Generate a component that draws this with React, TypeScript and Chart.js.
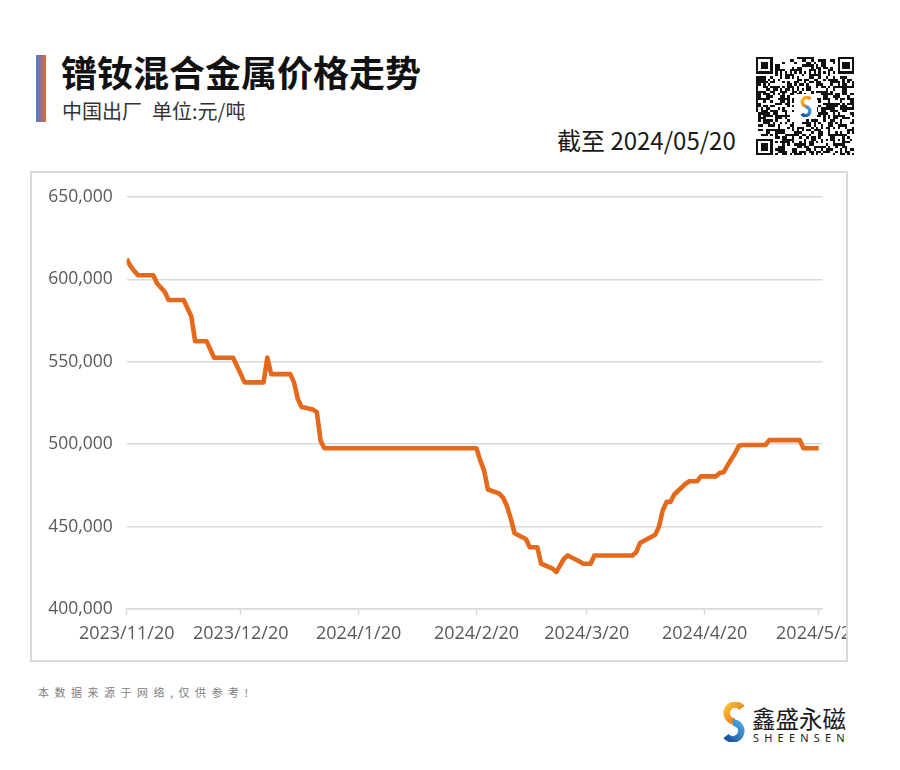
import React, { useEffect, useRef } from "react";
import { Chart, registerables } from "chart.js";

Chart.register(...registerables);

// ---- data ----
const priceDates: string[] = [
  "2023-11-20", "2023-11-21", "2023-11-22", "2023-11-23", "2023-11-24", "2023-11-27",
  "2023-11-28", "2023-11-29", "2023-11-30", "2023-12-01", "2023-12-04", "2023-12-05",
  "2023-12-06", "2023-12-07", "2023-12-08", "2023-12-11", "2023-12-12", "2023-12-13",
  "2023-12-14", "2023-12-15", "2023-12-18", "2023-12-19", "2023-12-20", "2023-12-21",
  "2023-12-22", "2023-12-25", "2023-12-26", "2023-12-27", "2023-12-28", "2023-12-29",
  "2024-01-02", "2024-01-03", "2024-01-04", "2024-01-05", "2024-01-08", "2024-01-09",
  "2024-01-10", "2024-01-11", "2024-01-12", "2024-01-19", "2024-01-26", "2024-02-02",
  "2024-02-08", "2024-02-19", "2024-02-20", "2024-02-21", "2024-02-22", "2024-02-23",
  "2024-02-26", "2024-02-27", "2024-02-28", "2024-02-29", "2024-03-01", "2024-03-04",
  "2024-03-05", "2024-03-06", "2024-03-07", "2024-03-08", "2024-03-11", "2024-03-12",
  "2024-03-13", "2024-03-14", "2024-03-15", "2024-03-18", "2024-03-19", "2024-03-20",
  "2024-03-21", "2024-03-22", "2024-03-25", "2024-03-29", "2024-04-01", "2024-04-02",
  "2024-04-03", "2024-04-07", "2024-04-08", "2024-04-09", "2024-04-10", "2024-04-11",
  "2024-04-12", "2024-04-15", "2024-04-16", "2024-04-17", "2024-04-18", "2024-04-19",
  "2024-04-22", "2024-04-23", "2024-04-24", "2024-04-25", "2024-04-26", "2024-04-28",
  "2024-04-29", "2024-04-30", "2024-05-06", "2024-05-07", "2024-05-10", "2024-05-15",
  "2024-05-16", "2024-05-17", "2024-05-20",
];

const priceValues: number[] = [
  612500, 608000, 605000, 602500, 602500, 602500,
  597500, 595000, 592500, 587500, 587500, 587500,
  582500, 577500, 562500, 562500, 557500, 552500,
  552500, 552500, 552500, 547500, 542500, 537500,
  537500, 537500, 537500, 552500, 542500, 542500,
  542500, 537500, 527500, 522500, 521000, 519500,
  502000, 497500, 497500, 497500, 497500, 497500,
  497500, 497500, 497500, 490000, 484000, 472500,
  470000, 467500, 462500, 455000, 446000, 442500,
  437500, 437500, 437500, 427500, 424500, 422500,
  426500, 430500, 432500, 429000, 427500, 427500,
  427500, 432500, 432500, 432500, 432500, 434500,
  440000, 445000, 450000, 460000, 465000, 465000,
  469500, 476000, 477500, 477500, 477500, 480500,
  480500, 480500, 482500, 483000, 487000, 494500,
  499000, 499500, 499500, 502500, 502500, 502500,
  497500, 497500, 497500,
];

const tickDates: string[] = [
  "2023/11/20", "2023/12/20", "2024/1/20", "2024/2/20", "2024/3/20", "2024/4/20", "2024/5/20",
];
const axisStartDate = "2023/11/20";
const axisEndDate = "2024/5/21";
const yMin = 400000;
const yMax = 650000;
const yStep = 50000;

const titleText = "镨钕混合金属价格走势";
const subtitleA = "中国出厂";
const subtitleB = "单位:元/吨";
const asOfText = "截至 2024/05/20";
const footerText = "本数据来源于网络,仅供参考!";
const brandCn = "鑫盛永磁";
const brandEn = "SHEENSEN";

// ---- helpers ----
function dayIndex(s: string): number {
  const [y, m, d] = s.split(/[-/]/).map(Number);
  const [y0, m0, d0] = axisStartDate.split("/").map(Number);
  return Math.round((Date.UTC(y, m - 1, d) - Date.UTC(y0, m0 - 1, d0)) / 86400000);
}

const CJK = '"Noto Sans CJK SC", "Noto Sans", sans-serif';

function SIcon({ w, h }: { w: number; h: number }) {
  return (
    <svg width={w} height={h} viewBox="0 0 26 40" style={{ display: "block" }}>
      <defs>
        <linearGradient id={`go${w}`} x1="0" y1="0" x2="1" y2="1">
          <stop offset="0" stopColor="#f9c232" />
          <stop offset="1" stopColor="#e8621c" />
        </linearGradient>
        <linearGradient id={`gb${w}`} x1="1" y1="0" x2="0" y2="1">
          <stop offset="0" stopColor="#4aa7e0" />
          <stop offset="1" stopColor="#1a4f9c" />
        </linearGradient>
      </defs>
      <path d="M 21 6 A 8.5 8.5 0 1 0 14 19.6" fill="none" stroke={`url(#go${w})`} strokeWidth="6.5" />
      <path d="M 12 20.4 A 8.5 8.5 0 1 1 5 34" fill="none" stroke={`url(#gb${w})`} strokeWidth="6.5" />
    </svg>
  );
}

function QrCode() {
  const n = 41;
  const m = 2.4;
  const cells: JSX.Element[] = [];
  for (let r = 0; r < n; r++) {
    for (let c = 0; c < n; c++) {
      let on = false;
      const inTL = r < 8 && c < 8;
      const inTR = r < 8 && c >= n - 8;
      const inBL = r >= n - 8 && c < 8;
      if (inTL || inTR || inBL) {
        const rr = r < 8 ? r : r - (n - 7);
        const cc = c < 8 ? c : c - (n - 7);
        if (rr < 0 || rr > 6 || cc < 0 || cc > 6) on = false;
        else {
          const d = Math.max(Math.abs(rr - 3), Math.abs(cc - 3));
          on = d !== 2;
        }
      } else if (r >= 16 && r <= 24 && c >= 16 && c <= 24) {
        on = false;
      } else if (Math.max(Math.abs(r - 34), Math.abs(c - 34)) <= 2) {
        on = Math.max(Math.abs(r - 34), Math.abs(c - 34)) !== 1;
      } else if (r === 6 || c === 6) {
        on = (r + c) % 2 === 0;
      } else {
        const h = (((r * 73856093) ^ (c * 19349663) ^ (r * c * 83492791)) >>> 0) % 97;
        on = h < 46;
      }
      if (on) cells.push(<rect key={`${r}-${c}`} x={c * m} y={r * m} width={m + 0.05} height={m + 0.05} fill="#111" />);
    }
  }
  return (
    <div style={{ position: "absolute", left: 756, top: 57, width: n * m, height: n * m }}>
      <svg width={n * m} height={n * m} shapeRendering="crispEdges" style={{ display: "block" }}>
        {cells}
      </svg>
      <div style={{ position: "absolute", left: 39, top: 37, width: 22, height: 25, background: "#fff", borderRadius: 3 }}>
        <div style={{ position: "absolute", left: 4, top: 2 }}>
          <SIcon w={14} h={21} />
        </div>
      </div>
    </div>
  );
}

function PriceChart() {
  const ref = useRef<HTMLCanvasElement | null>(null);
  useEffect(() => {
    if (!ref.current) return;
    const points = priceDates.map((d, i) => ({ x: dayIndex(d), y: priceValues[i] }));
    const tickDays = tickDates.map(dayIndex);
    const chart = new Chart(ref.current, {
      type: "line",
      data: {
        datasets: [
          {
            data: points,
            borderColor: "#E4691B",
            borderWidth: 4.6,
            borderJoinStyle: "round",
            borderCapStyle: "butt",
            pointRadius: 0,
            tension: 0,
            fill: false,
          },
        ],
      },
      options: {
        animation: false,
        responsive: false,
        events: [],
        layout: { padding: { left: 0, right: 23.5, top: 24, bottom: 0 } },
        plugins: { legend: { display: false }, tooltip: { enabled: false }, title: { display: false } },
        scales: {
          x: {
            type: "linear",
            min: dayIndex(axisStartDate),
            max: dayIndex(axisEndDate),
            afterBuildTicks: (s: any) => {
              s.ticks = tickDays.map((v) => ({ value: v }));
            },
            afterFit: (s: any) => {
              s.paddingLeft = 0;
              s.paddingRight = 0;
              s.height = 51;
            },
            ticks: {
              autoSkip: false,
              maxRotation: 0,
              minRotation: 0,
              padding: 8,
              color: "#595959",
              font: { family: '"Open Sans", sans-serif', size: 18 },
              callback: (_v: any, i: number) => tickDates[i],
            },
            grid: {
              drawOnChartArea: false,
              drawTicks: true,
              tickLength: 6,
              tickColor: "#d9d9d9",
              tickWidth: 1.5,
            },
            border: { display: true, color: "#d9d9d9", width: 1.5 },
          },
          y: {
            min: yMin,
            max: yMax,
            afterFit: (s: any) => {
              s.width = 94.7;
              s.paddingTop = 0;
              s.paddingBottom = 0;
            },
            ticks: {
              stepSize: yStep,
              padding: 14,
              color: "#595959",
              font: { family: '"Open Sans", sans-serif', size: 17.5 },
              callback: (v: any) => Number(v).toLocaleString("en-US"),
            },
            grid: { color: "#d9d9d9", lineWidth: 1.5, drawTicks: false },
            border: { display: false },
          },
        },
      },
    } as any);
    return () => chart.destroy();
  }, []);
  return <canvas ref={ref} width={814} height={487} style={{ width: 814, height: 487, display: "block" }} />;
}

export default function App() {
  return (
    <div style={{ position: "absolute", left: 0, top: 0, width: 900, height: 770, background: "#fff", overflow: "hidden", fontFamily: CJK }}>
      {/* accent bar */}
      <div style={{ position: "absolute", left: 36, top: 55, width: 10, height: 67, background: "linear-gradient(to right, #4f7fc6, #8a6f9a 45%, #e46c2a)" }} />
      {/* title */}
      <div style={{ position: "absolute", left: 61, top: 52.5, fontSize: 36, lineHeight: "37px", fontWeight: 700, color: "#111", whiteSpace: "nowrap" }}>
        {titleText}
      </div>
      <div style={{ position: "absolute", left: 62, top: 100, fontSize: 20, lineHeight: "21px", color: "#333", whiteSpace: "nowrap" }}>
        {subtitleA}
        <span style={{ marginLeft: 10 }}>{subtitleB}</span>
      </div>
      <div style={{ position: "absolute", left: 557, top: 127, fontSize: 24, lineHeight: "26px", color: "#1a1a1a", whiteSpace: "nowrap" }}>
        {asOfText}
      </div>
      <QrCode />
      {/* chart box */}
      <div style={{ position: "absolute", left: 30, top: 171, width: 818, height: 491, border: "2px solid #d9d9d9", boxSizing: "border-box", overflow: "hidden" }}>
        <PriceChart />
      </div>
      {/* footer */}
      <div style={{ position: "absolute", left: 38, top: 685, fontSize: 11, lineHeight: "14px", letterSpacing: 5.5, color: "#808080", whiteSpace: "nowrap" }}>
        {footerText}
      </div>
      <div style={{ position: "absolute", left: 721, top: 702 }}>
        <SIcon w={26} h={40} />
      </div>
      <div style={{ position: "absolute", left: 752, top: 706, fontSize: 23.5, lineHeight: "24px", color: "#1a1a1a", whiteSpace: "nowrap" }}>
        {brandCn}
      </div>
      <div style={{ position: "absolute", left: 753, top: 732, fontSize: 11, lineHeight: "12px", letterSpacing: 5.2, color: "#1a1a1a", whiteSpace: "nowrap", fontFamily: '"Noto Sans", sans-serif' }}>
        {brandEn}
      </div>
    </div>
  );
}
